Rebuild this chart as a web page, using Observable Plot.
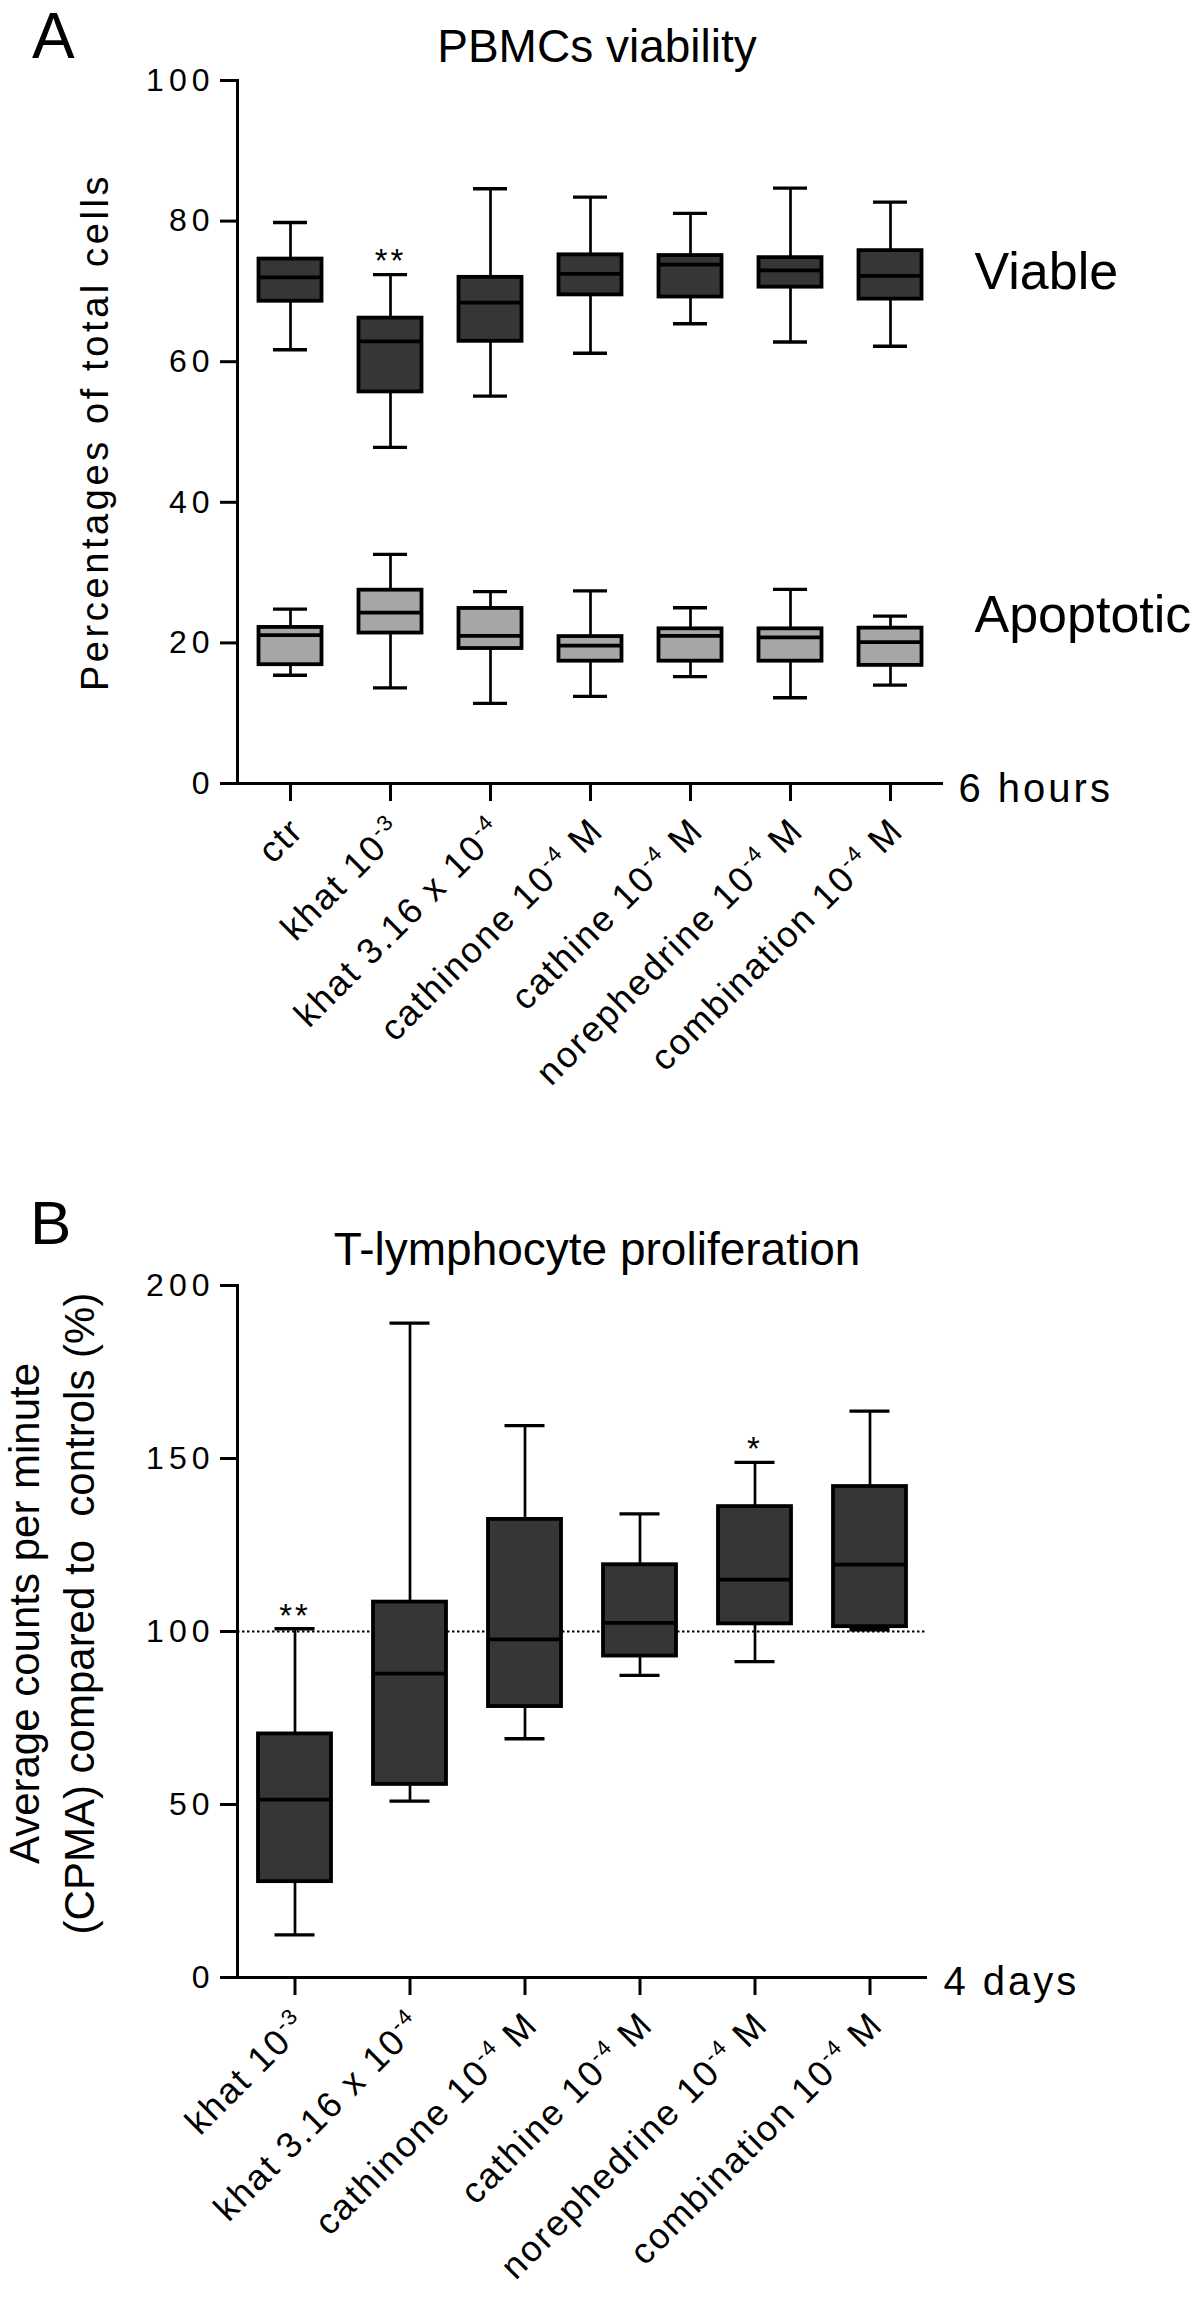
<!DOCTYPE html>
<html>
<head>
<meta charset="utf-8">
<script src="https://cdn.jsdelivr.net/npm/d3@7"></script>
<script src="https://cdn.jsdelivr.net/npm/@observablehq/plot@0.6"></script>
<style>
  html, body { margin: 0; padding: 0; background: #fff; }
  #root { position: relative; width: 1200px; height: 2297px; overflow: hidden;
          font-family: "Liberation Sans", Arial, Helvetica, sans-serif; color: #000; }
  .abs { position: absolute; white-space: pre; }
  svg text { white-space: pre; }
</style>
</head>
<body>
<div id="root">
  <div class="abs" style="left:32px;top:4px;font-size:64px;line-height:64px;">A</div>
  <div class="abs" style="left:0;width:1194px;text-align:center;top:23px;font-size:46px;line-height:46px;">PBMCs viability</div>
  <div id="panelA" class="abs" style="left:0;top:66px;"></div>
  <div class="abs" style="left:30px;top:1192px;font-size:62px;line-height:62px;">B</div>
  <div class="abs" style="left:0;width:1194px;text-align:center;top:1226px;font-size:46px;line-height:46px;">T-lymphocyte proliferation</div>
  <div id="panelB" class="abs" style="left:0;top:1266px;"></div>
</div>
<script>
// ---------- Data ----------
const categoriesA = ["ctr", "khat 10⁻³", "khat 3.16 x 10⁻⁴", "cathinone 10⁻⁴ M", "cathine 10⁻⁴ M", "norephedrine 10⁻⁴ M", "combination 10⁻⁴ M"];
const viableMin    = [61.7, 47.8, 55.1, 61.2, 65.4, 62.8, 62.2];
const viableQ1     = [68.6, 55.7, 62.9, 69.5, 69.2, 70.6, 68.9];
const viableMedian = [72.0, 62.9, 68.4, 72.5, 73.8, 73.0, 72.2];
const viableQ3     = [74.6, 66.2, 72.0, 75.2, 75.1, 74.8, 75.8];
const viableMax    = [79.8, 72.4, 84.6, 83.4, 81.1, 84.7, 82.7];
const viableSig    = ["", "**", "", "", "", "", ""];

const apoMin    = [15.4, 13.6, 11.4, 12.4, 15.2, 12.2, 14.0];
const apoQ1     = [16.9, 21.4, 19.2, 17.4, 17.4, 17.4, 16.8];
const apoMedian = [21.1, 24.3, 21.0, 19.6, 21.0, 20.8, 20.1];
const apoQ3     = [22.2, 27.5, 24.9, 20.9, 22.0, 22.0, 22.1];
const apoMax    = [24.8, 32.6, 27.3, 27.4, 25.0, 27.6, 23.8];
const apoSig    = ["", "", "", "", "", "", ""];

const yTicksA = [0, 20, 40, 60, 80, 100];

const categoriesB = ["khat 10⁻³", "khat 3.16 x 10⁻⁴", "cathinone 10⁻⁴ M", "cathine 10⁻⁴ M", "norephedrine 10⁻⁴ M", "combination 10⁻⁴ M"];
const prolifMin    = [12.3, 51.0, 69.0, 87.3, 91.3, 100.5];
const prolifQ1     = [27.7, 55.8, 78.3, 92.9, 102.2, 101.4];
const prolifMedian = [51.4, 87.8, 97.7, 102.5, 115.0, 119.3];
const prolifQ3     = [70.4, 108.5, 132.4, 119.3, 136.1, 141.9];
const prolifMax    = [100.8, 189.1, 159.5, 134.0, 148.9, 163.7];
const prolifSig    = ["**", "", "", "", "*", ""];
const controlLevel = [100];

const yTicksB = [0, 50, 100, 150, 200];

// ---------- Helpers ----------
const FONT = '"Liberation Sans", Arial, Helvetica, sans-serif';
const DARK = "#363636";
const LIGHT = "#a6a6a6";

function rows(cats, mins, q1s, meds, q3s, maxs, sig) {
  return cats.map((cat, i) => ({cat, min: mins[i], q1: q1s[i], median: meds[i], q3: q3s[i], max: maxs[i], sig: sig[i]}));
}

function boxMarks(data, fill, boxInset, capInset) {
  return [
    Plot.ruleX(data, {x: "cat", y1: "min", y2: "max", stroke: "#000", strokeWidth: 2.7}),
    Plot.barY(data, {x: "cat", y1: "q1", y2: "q3", fill, stroke: "#000", strokeWidth: 3.8,
                     insetLeft: boxInset, insetRight: boxInset}),
    Plot.tickY(data, {x: "cat", y: "median", stroke: "#000", strokeWidth: 3.8,
                      insetLeft: boxInset, insetRight: boxInset}),
    Plot.tickY(data, {x: "cat", y: "min", stroke: "#000", strokeWidth: 3.3,
                      insetLeft: capInset, insetRight: capInset}),
    Plot.tickY(data, {x: "cat", y: "max", stroke: "#000", strokeWidth: 3.3,
                      insetLeft: capInset, insetRight: capInset})
  ];
}

const SUP = {"⁻": "-", "⁰": "0", "¹": "1", "²": "2", "³": "3", "⁴": "4", "⁵": "5", "⁶": "6", "⁷": "7", "⁸": "8", "⁹": "9"};
const SUPRE = /[⁻⁰¹²³⁴⁵⁶⁷⁸⁹]/;
// letter spacing keyed by the font-size of each text group
const LETTER_SPACING = {"32": "5px", "36": "2px", "38": "3.6px", "40": "3px", "33": "3px"};

function postProcess(svg) {
  const ns = "http://www.w3.org/2000/svg";
  svg.querySelectorAll("[font-size]").forEach(el => {
    const ls = LETTER_SPACING[el.getAttribute("font-size")];
    if (ls) el.style.letterSpacing = ls;
  });
  svg.querySelectorAll("text").forEach(t => {
    const s = t.textContent;
    if (!SUPRE.test(s)) return;
    const holder = t.closest("[font-size]");
    const fs = holder ? +holder.getAttribute("font-size") : 36;
    const supSize = Math.round(fs * 0.62), raise = Math.round(fs * 0.38);
    const parts = s.match(/[⁻⁰¹²³⁴⁵⁶⁷⁸⁹]+|[^⁻⁰¹²³⁴⁵⁶⁷⁸⁹]+/g);
    while (t.firstChild) t.removeChild(t.firstChild);
    let raised = false;
    for (const p of parts) {
      const ts = document.createElementNS(ns, "tspan");
      if (SUPRE.test(p[0])) {
        ts.textContent = Array.from(p).map(c => SUP[c]).join("");
        ts.setAttribute("font-size", String(supSize));
        ts.setAttribute("dy", String(-raise));
        raised = true;
      } else {
        ts.textContent = p;
        if (raised) { ts.setAttribute("dy", String(raise)); raised = false; }
      }
      t.appendChild(ts);
    }
  });
}

const baseStyle = {fontFamily: FONT, fontSize: "32px", color: "#000", background: "transparent", overflow: "visible"};

// ---------- Panel A ----------
const viable = rows(categoriesA, viableMin, viableQ1, viableMedian, viableQ3, viableMax, viableSig);
const apoptotic = rows(categoriesA, apoMin, apoQ1, apoMedian, apoQ3, apoMax, apoSig);
const lastA = viable.length - 1;

const plotA = Plot.plot({
  width: 1200, height: 1124,
  marginTop: 14, marginBottom: 407, marginLeft: 237, marginRight: 257,
  style: baseStyle,
  x: {type: "band", domain: categoriesA, padding: 0},
  y: {domain: [0, 100]},
  marks: [
    ...boxMarks(viable, DARK, 18.5, 33),
    ...boxMarks(apoptotic, LIGHT, 18.5, 33),
    Plot.text(viable.filter(d => d.sig), {x: "cat", y: "max", text: "sig", lineAnchor: "bottom", dy: -3, fontSize: 33}),
    Plot.text([viable[lastA]], {x: "cat", y: "median", text: () => "Viable", textAnchor: "start", lineAnchor: "bottom", dx: 84, dy: 13, fontSize: 52}),
    Plot.text([apoptotic[lastA]], {x: "cat", y: "median", text: () => "Apoptotic", textAnchor: "start", lineAnchor: "bottom", dx: 84, dy: -10, fontSize: 52}),
    Plot.axisY({ticks: yTicksA, tickSize: 17, tickPadding: 6, fontSize: 32, strokeWidth: 3, tickFormat: d => String(d), label: null}),
    Plot.axisX({tickSize: 18, strokeWidth: 3, tickFormat: () => "", label: null}),
    Plot.frame({anchor: "left", strokeWidth: 3}),
    Plot.ruleY([0], {strokeWidth: 3}),
    Plot.text(categoriesA, {x: d => d, text: d => d, frameAnchor: "bottom", rotate: -45, textAnchor: "end", lineAnchor: "bottom", dx: 15, dy: 49, fontSize: 36}),
    Plot.text(["6 hours"], {frameAnchor: "bottom-right", textAnchor: "start", lineAnchor: "middle", dx: 15, dy: 6, fontSize: 40}),
    Plot.text(["Percentages of total cells"], {frameAnchor: "left", rotate: -90, textAnchor: "middle", lineAnchor: "bottom", dx: -130, fontSize: 38})
  ]
});
postProcess(plotA);
document.getElementById("panelA").append(plotA);

// ---------- Panel B ----------
const prolif = rows(categoriesB, prolifMin, prolifQ1, prolifMedian, prolifQ3, prolifMax, prolifSig);

const plotB = Plot.plot({
  width: 1200, height: 1031,
  marginTop: 19, marginBottom: 320, marginLeft: 237, marginRight: 273,
  style: baseStyle,
  x: {type: "band", domain: categoriesB, padding: 0},
  y: {domain: [0, 200]},
  marks: [
    Plot.ruleY(controlLevel, {stroke: "#000", strokeWidth: 2, strokeDasharray: "2.5,2.5"}),
    ...boxMarks(prolif, DARK, 21, 37.5),
    Plot.text(prolif.filter(d => d.sig), {x: "cat", y: "max", text: "sig", lineAnchor: "bottom", dy: -2, fontSize: 33}),
    Plot.axisY({ticks: yTicksB, tickSize: 17, tickPadding: 6, fontSize: 32, strokeWidth: 3, tickFormat: d => String(d), label: null}),
    Plot.axisX({tickSize: 18, strokeWidth: 3, tickFormat: () => "", label: null}),
    Plot.frame({anchor: "left", strokeWidth: 3}),
    Plot.ruleY([0], {strokeWidth: 3}),
    Plot.text(categoriesB, {x: d => d, text: d => d, frameAnchor: "bottom", rotate: -45, textAnchor: "end", lineAnchor: "bottom", dx: 15, dy: 49, fontSize: 36}),
    Plot.text(["4 days"], {frameAnchor: "bottom-right", textAnchor: "start", lineAnchor: "middle", dx: 16, dy: 5, fontSize: 40}),
    Plot.text(["Average counts per minute\n(CPMA) compared to  controls (%)"], {frameAnchor: "left", rotate: -90, textAnchor: "middle", lineAnchor: "bottom", lineHeight: 1.29, dx: -144, dy: -18, fontSize: 42})
  ]
});
postProcess(plotB);
document.getElementById("panelB").append(plotB);
</script>
</body>
</html>
